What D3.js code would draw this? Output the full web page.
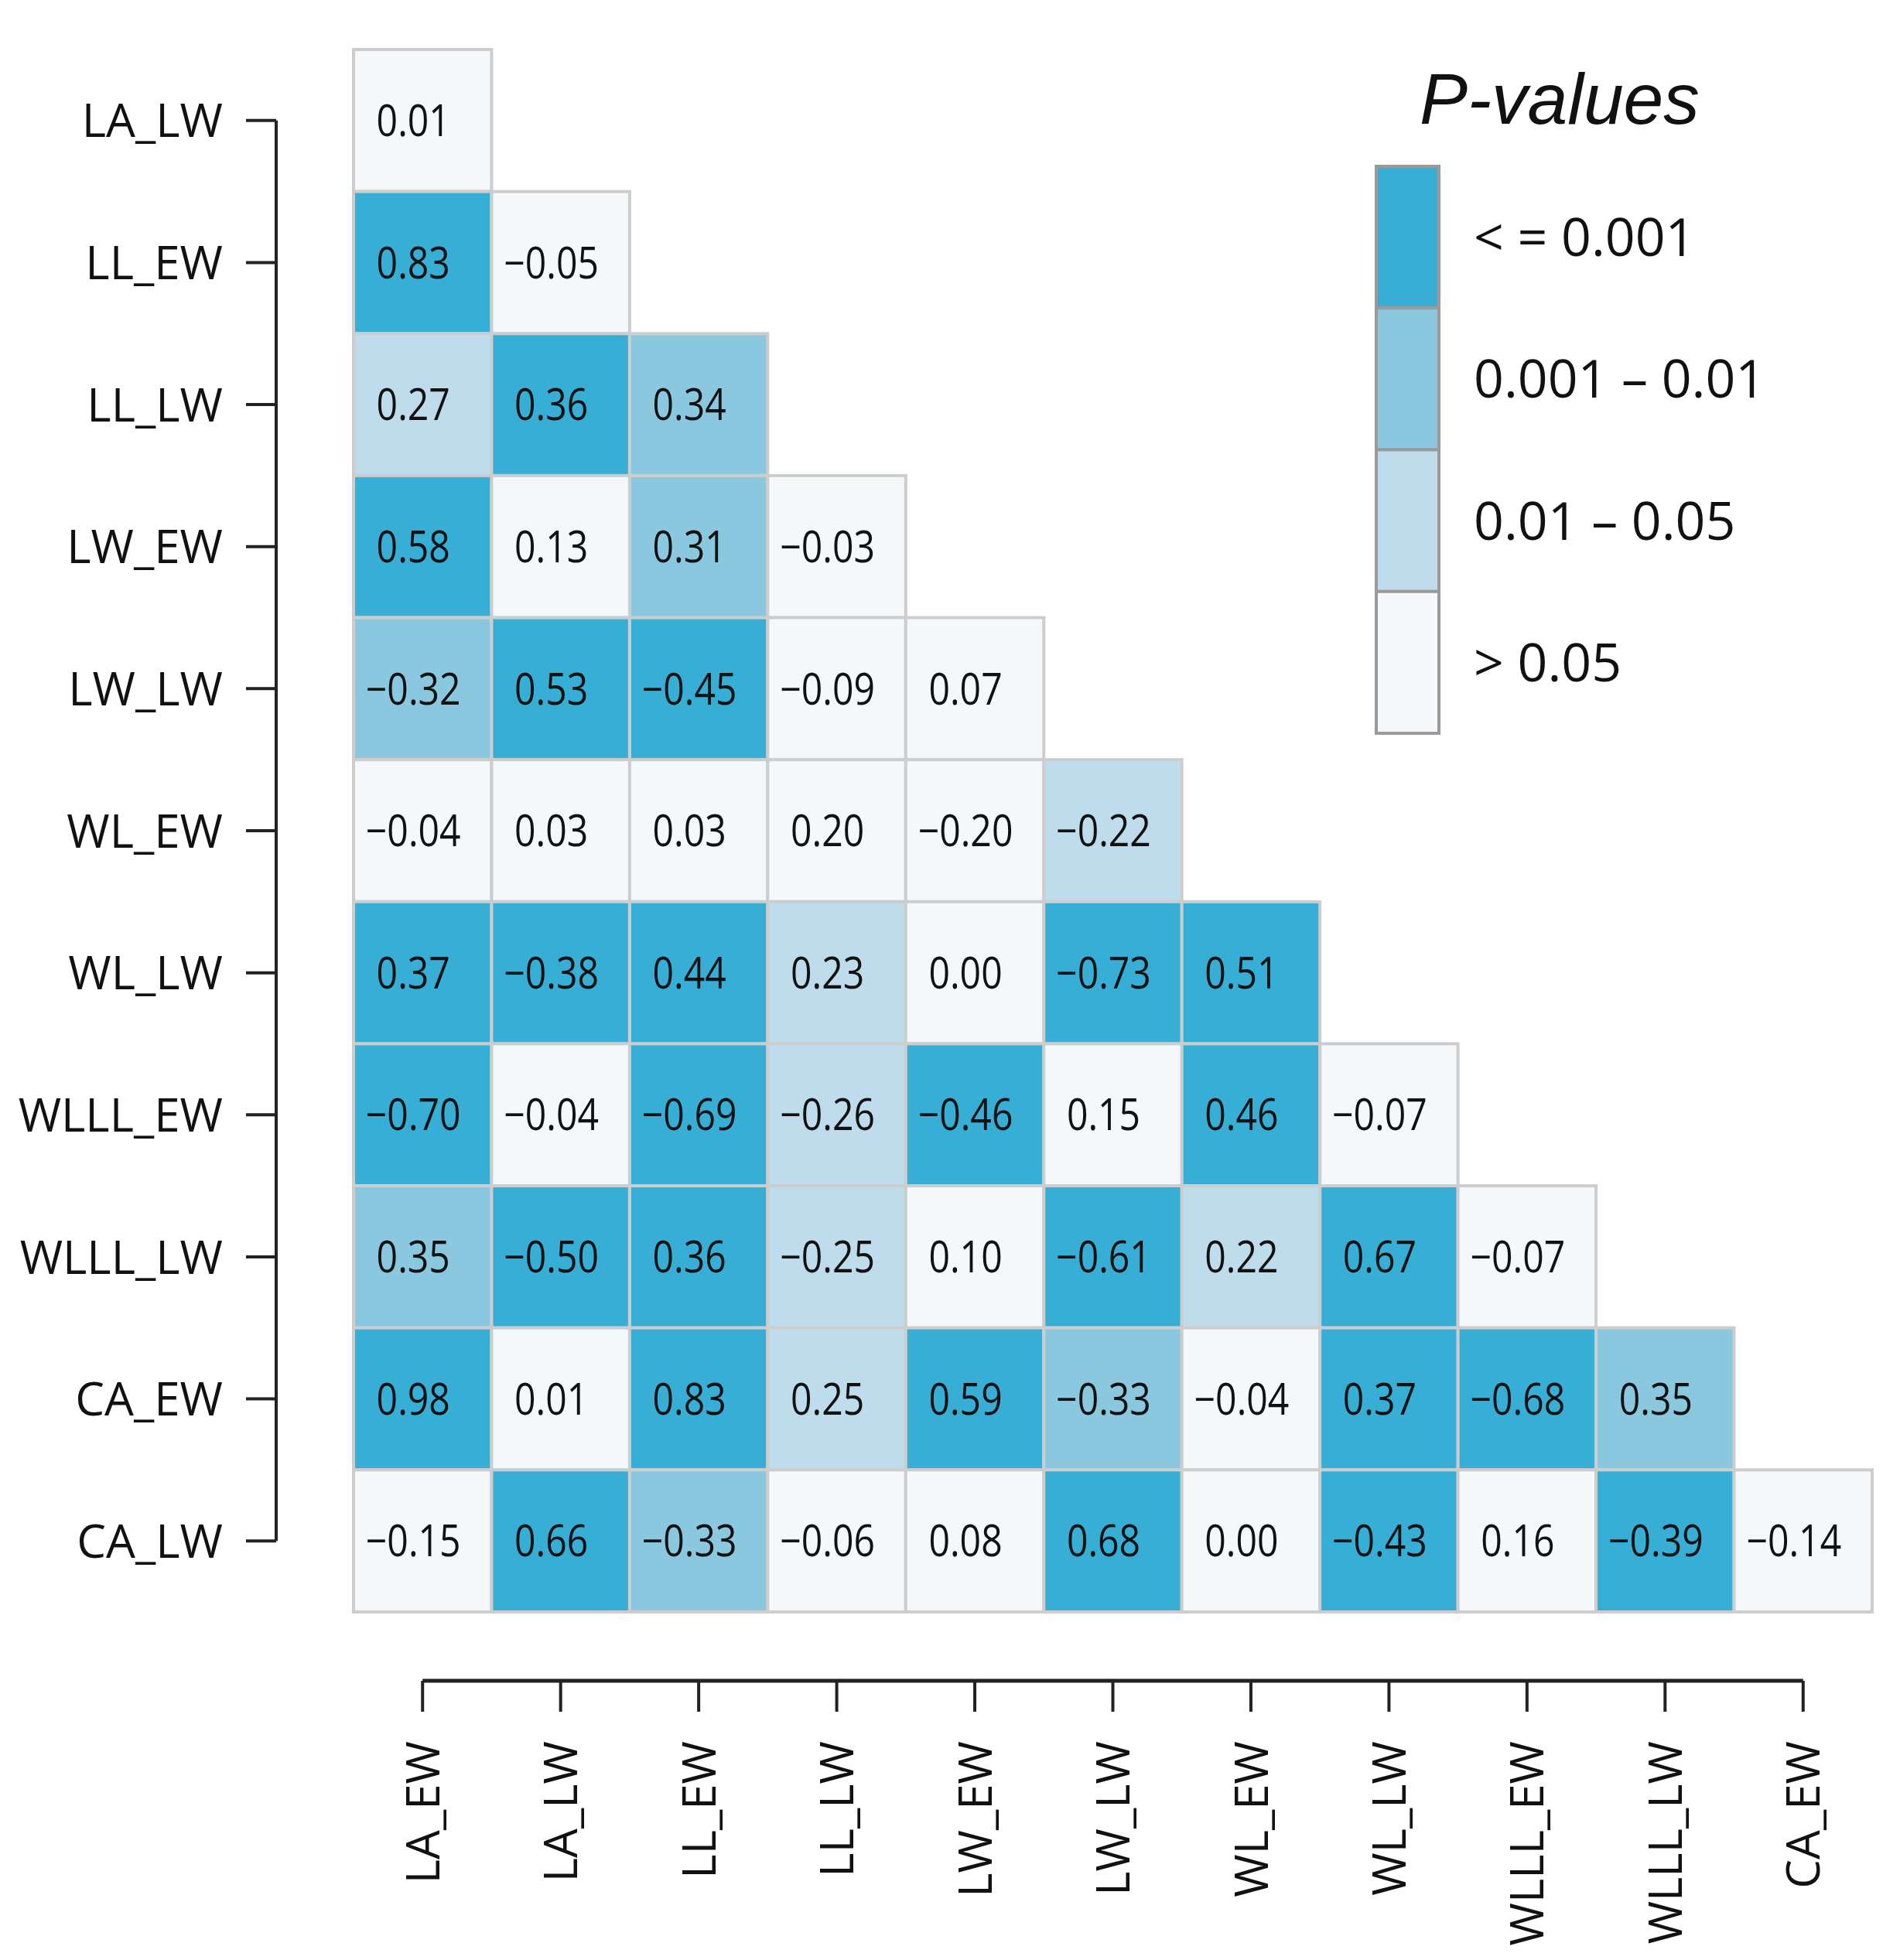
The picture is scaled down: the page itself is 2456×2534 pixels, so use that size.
<!DOCTYPE html>
<html>
<head>
<meta charset="utf-8">
<script src="https://cdn.jsdelivr.net/npm/d3@7/dist/d3.min.js"></script>
<style>
  html, body { margin: 0; padding: 0; background: #ffffff; }
  svg { display: block; }
</style>
</head>
<body>
<svg id="chart" width="2456" height="2534"></svg>
<script>
// ---------------- data ----------------
const rowLabels = ["LA_LW","LL_EW","LL_LW","LW_EW","LW_LW","WL_EW","WL_LW","WLLL_EW","WLLL_LW","CA_EW","CA_LW"];
const colLabels = ["LA_EW","LA_LW","LL_EW","LL_LW","LW_EW","LW_LW","WL_EW","WL_LW","WLLL_EW","WLLL_LW","CA_EW"];

// correlation coefficients, one row per row label (lower triangle)
const corrValues = [
  [0.01],
  [0.83, -0.05],
  [0.27, 0.36, 0.34],
  [0.58, 0.13, 0.31, -0.03],
  [-0.32, 0.53, -0.45, -0.09, 0.07],
  [-0.04, 0.03, 0.03, 0.20, -0.20, -0.22],
  [0.37, -0.38, 0.44, 0.23, 0.00, -0.73, 0.51],
  [-0.70, -0.04, -0.69, -0.26, -0.46, 0.15, 0.46, -0.07],
  [0.35, -0.50, 0.36, -0.25, 0.10, -0.61, 0.22, 0.67, -0.07],
  [0.98, 0.01, 0.83, 0.25, 0.59, -0.33, -0.04, 0.37, -0.68, 0.35],
  [-0.15, 0.66, -0.33, -0.06, 0.08, 0.68, 0.00, -0.43, 0.16, -0.39, -0.14]
];

// p-value class: 0 = <=0.001, 1 = 0.001-0.01, 2 = 0.01-0.05, 3 = >0.05
const pClass = [
  [3],
  [0, 3],
  [2, 0, 1],
  [0, 3, 1, 3],
  [1, 0, 0, 3, 3],
  [3, 3, 3, 3, 3, 2],
  [0, 0, 0, 2, 3, 0, 0],
  [0, 3, 0, 2, 0, 3, 0, 3],
  [1, 0, 0, 2, 3, 0, 2, 0, 3],
  [0, 3, 0, 2, 0, 1, 3, 0, 0, 1],
  [3, 0, 1, 3, 3, 0, 3, 0, 3, 0, 3]
];

const legendLabels = ["< = 0.001", "0.001 \u2013 0.01", "0.01 \u2013 0.05", "> 0.05"];
const legendColors = ["#36AED6", "#8AC8E0", "#BFDCEC", "#F4F8FB"];
const legendTitle = "P-values";

// ---------------- layout ----------------
const svg = d3.select("#chart");
const font = "'Open Sans', 'Noto Sans', sans-serif";

const gridLeft = 457, gridRight = 2420, gridTop = 64, gridBottom = 2084;

const x = d3.scaleBand().domain(colLabels).range([gridLeft, gridRight]).padding(0);
const y = d3.scaleBand().domain(rowLabels).range([gridTop, gridBottom]).padding(0);
const color = d3.scaleOrdinal().domain([0,1,2,3]).range(legendColors);
const fmt = d3.format(".2f");

const cells = [];
corrValues.forEach((row, i) => {
  row.forEach((v, j) => {
    cells.push({ row: rowLabels[i], col: colLabels[j], value: v, p: pClass[i][j] });
  });
});

// cells
const gCells = svg.append("g");
gCells.selectAll("rect")
  .data(cells)
  .join("rect")
  .attr("x", d => x(d.col))
  .attr("y", d => y(d.row))
  .attr("width", x.bandwidth())
  .attr("height", y.bandwidth())
  .attr("fill", d => color(d.p))
  .attr("stroke", "#CDCDCD")
  .attr("stroke-width", 4);

gCells.selectAll("text")
  .data(cells)
  .join("text")
  .attr("transform", d => `translate(${x(d.col) + x.bandwidth() / 2 - 12},${y(d.row) + y.bandwidth() / 2}) scale(0.86,1)`)
  .attr("dy", "0.36em")
  .attr("text-anchor", "middle")
  .attr("font-family", font)
  .attr("font-size", 56)
  .attr("fill", "#111")
  .text(d => fmt(d.value));

// y axis
const yAxisG = svg.append("g").attr("transform", "translate(357,0)");
const yAxis = d3.axisLeft(y).tickSize(39).tickPadding(30).tickSizeOuter(0);
yAxisG.call(yAxis);
yAxisG.select(".domain")
  .attr("d", `M0,${y(rowLabels[0]) + y.bandwidth()/2}V${y(rowLabels[rowLabels.length-1]) + y.bandwidth()/2}`)
  .attr("stroke", "#222").attr("stroke-width", 4);
yAxisG.selectAll(".tick line").attr("stroke", "#222").attr("stroke-width", 4);
yAxisG.selectAll(".tick text")
  .attr("font-family", font)
  .attr("font-size", 60)
  .attr("fill", "#111")
  .attr("dy", "0.36em");

// x axis
const xAxisG = svg.append("g").attr("transform", "translate(0,2173)");
const xAxis = d3.axisBottom(x).tickSize(40).tickSizeOuter(0);
xAxisG.call(xAxis);
xAxisG.select(".domain")
  .attr("d", `M${x(colLabels[0]) + x.bandwidth()/2},0H${x(colLabels[colLabels.length-1]) + x.bandwidth()/2}`)
  .attr("stroke", "#222").attr("stroke-width", 5);
xAxisG.selectAll(".tick line").attr("stroke", "#222").attr("stroke-width", 4);
xAxisG.selectAll(".tick text")
  .attr("font-family", font)
  .attr("font-size", 60)
  .attr("fill", "#111")
  .attr("text-anchor", "end")
  .attr("transform", "translate(0,78) rotate(-90)")
  .attr("x", 0)
  .attr("y", 0)
  .attr("dy", "0.36em");

// legend
const legY = d3.scaleBand().domain(legendLabels).range([215, 948]).padding(0);
const gLeg = svg.append("g");
gLeg.append("text")
  .attr("x", 1835)
  .attr("y", 160)
  .attr("font-family", "'Liberation Sans', Arial, sans-serif")
  .attr("font-style", "italic")
  .attr("font-size", 93)
  .attr("fill", "#111")
  .text(legendTitle);
gLeg.selectAll("rect")
  .data(legendLabels)
  .join("rect")
  .attr("x", 1779)
  .attr("y", d => legY(d))
  .attr("width", 81)
  .attr("height", legY.bandwidth())
  .attr("fill", (d, i) => legendColors[i])
  .attr("stroke", "#9A9A9A")
  .attr("stroke-width", 4);
gLeg.selectAll("text.lab")
  .data(legendLabels)
  .join("text")
  .attr("class", "lab")
  .attr("x", 1905)
  .attr("y", d => legY(d) + legY.bandwidth() / 2)
  .attr("dy", "0.36em")
  .attr("font-family", font)
  .attr("font-size", 68)
  .attr("fill", "#111")
  .text(d => d);
</script>
</body>
</html>
